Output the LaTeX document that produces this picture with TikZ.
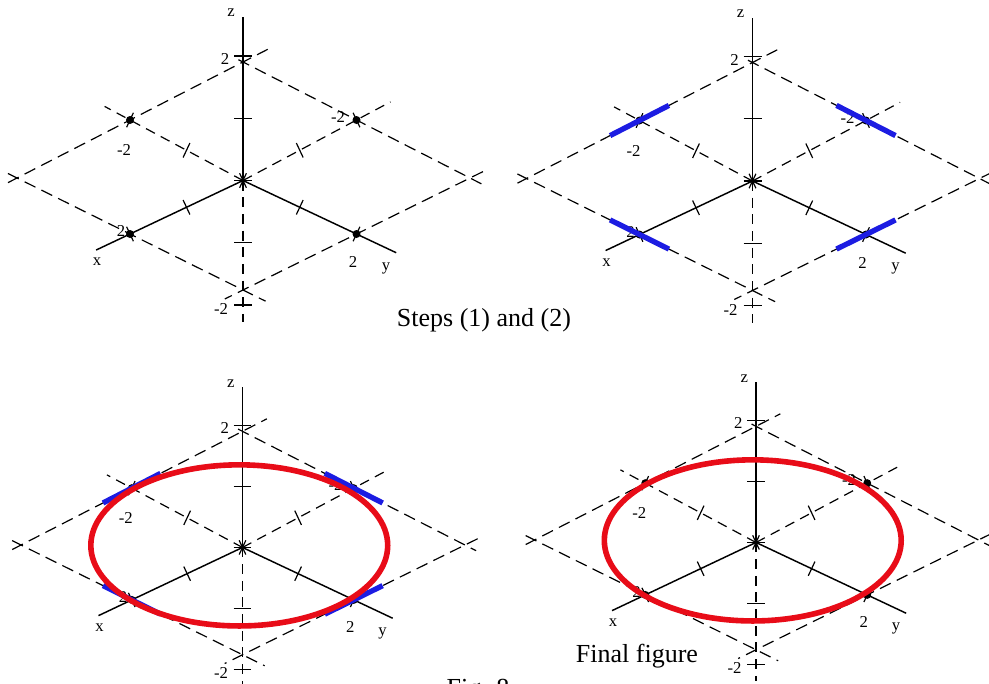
\documentclass[tikz,border=0pt]{standalone}
\usepackage{fontspec}
\setmainfont{Liberation Serif}
\usetikzlibrary{calc}
\definecolor{myred}{RGB}{232,12,24}
\definecolor{myblue}{RGB}{28,28,226}
\tikzset{
  axisline/.style={line width=1.1pt, black},
  negaxis/.style={line width=0.9pt, black, dash pattern=on 7.5pt off 5pt},
  gridline/.style={line width=0.9pt, black, dash pattern=on 9pt off 5pt},
  tickline/.style={line width=0.9pt, black},
  lbl/.style={font=\fontsize{12.5}{14}\selectfont, inner sep=0pt},
  dotnode/.style={circle, fill=black, inner sep=0pt, minimum size=6pt},
  tangent/.style={myblue, line width=4pt},
  curveline/.style={myred, line width=4.2pt},
  caption/.style={font=\fontsize{19.5}{22}\selectfont, inner sep=0pt, anchor=base},
}
\newcommand\mypanel[1]{%
  \coordinate (#1O) at (0,2.5);
  \coordinate (#1T) at (0,-116);
  \coordinate (#1B) at (0,112);
  \coordinate (#1L) at (-226,0);
  \coordinate (#1R) at (227,0);
  \coordinate (#1Px) at ($(#1L)!0.5!(#1B)$);
  \coordinate (#1Py) at ($(#1R)!0.5!(#1B)$);
  \coordinate (#1Nx) at ($(#1T)!0.5!(#1R)$);
  \coordinate (#1Ny) at ($(#1L)!0.5!(#1T)$);
  \coordinate (#1Zt) at (0,-161);
  \coordinate (#1Zb) at (0,144);
  % dashed lines of the plane
  \draw[gridline] ($(#1L)!-0.04!(#1T)$) -- ($(#1L)!1.11!(#1T)$);
  \draw[gridline] ($(#1T)!-0.02!(#1R)$) -- ($(#1T)!1.05!(#1R)$);
  \draw[gridline] ($(#1B)!1.057!(#1R)$) -- ($(#1R)!1.08!(#1B)$);
  \draw[gridline] ($(#1B)!1.04!(#1L)$) -- ($(#1L)!1.1!(#1B)$);
  % axes
  \draw[axisline] (#1O) -- ($(#1O)!1.3!(#1Px)$);
  \draw[negaxis] (#1O) -- ($(#1O)!1.3!(#1Nx)$);
  \draw[axisline] (#1O) -- ($(#1O)!1.35!(#1Py)$);
  \draw[negaxis] (#1O) -- ($(#1O)!1.225!(#1Ny)$);
  \draw[axisline] (#1O) -- (#1Zt);
  \draw[negaxis] (#1O) -- (#1Zb);
  % ticks
  \foreach \f in {0,0.5,1}{
    \draw[tickline] ($(#1O)!\f!(#1Px)+(-3.4,-7.25)$) -- ++(6.8,14.5);
    \draw[tickline] ($(#1O)!\f!(#1Py)+(-3.4,7.25)$) -- ++(6.8,-14.5);
  }
  \foreach \f in {0.5,1}{
    \draw[tickline] ($(#1O)!\f!(#1Nx)+(-3.4,-7.25)$) -- ++(6.8,14.5);
    \draw[tickline] ($(#1O)!\f!(#1Ny)+(-3.4,7.25)$) -- ++(6.8,-14.5);
  }
  \foreach \zz in {-122,-59.75,2.5,64.75,127}{
    \draw[tickline] (-9,\zz) -- (9,\zz);
  }
  % labels
  \node[lbl] (#1lz) at (-12,-165) {z};
  \node[lbl] (#1lztwo) at (-18,-119) {2};
  \node[lbl] (#1lzm) at (-22,131) {-2};
  \node[lbl] (#1lx) at (-146,84) {x};
  \node[lbl] (#1ly) at (143,90) {y};
  \node[lbl] (#1lxtwo) at (-122,53) {2};
  \node[lbl] (#1lym) at (-119,-28) {-2};
  \node[lbl] (#1lxm) at (95,-61) {-2};
  \node[lbl] (#1lytwo) at (110,84) {2};
  % dots
  \node[dotnode] (#1dPx) at (#1Px) {};
  \node[dotnode] (#1dPy) at (#1Py) {};
  \node[dotnode] (#1dNx) at (#1Nx) {};
  \node[dotnode] (#1dNy) at (#1Ny) {};
}
\newcommand\mytangents[1]{%
  \draw[tangent] ($(#1L)!0.37!(#1T)$) -- ($(#1L)!0.63!(#1T)$);
  \draw[tangent] ($(#1T)!0.37!(#1R)$) -- ($(#1T)!0.63!(#1R)$);
  \draw[tangent] ($(#1L)!0.37!(#1B)$) -- ($(#1L)!0.63!(#1B)$);
  \draw[tangent] ($(#1R)!0.37!(#1B)$) -- ($(#1R)!0.63!(#1B)$);
}
\newcommand\mycurve[1]{%
  \coordinate (#1E) at (-3.3,0.4);
  \draw[curveline] (#1E) ellipse [x radius=113.6pt, y radius=61.65pt];
}
\begin{document}
\begin{tikzpicture}[x=0.75pt,y=-0.75pt]
\useasboundingbox (0,0) rectangle (989,683);
\fill[white] (0,0) rectangle (989,683);
\begin{scope}[shift={(243,178)}]
  \mypanel{a}
\end{scope}
\begin{scope}[shift={(752.5,178.5)}]
  \mypanel{b}
  \mytangents{b}
\end{scope}
\begin{scope}[shift={(242.5,545)}, scale=0.98]
  \mypanel{c}
  \mytangents{c}
  \mycurve{c}
\end{scope}
\begin{scope}[shift={(756,540)}, scale=0.98]
  \mypanel{d}
  \mycurve{d}
\end{scope}
\node[caption] (capA) at (484,326) {Steps (1) and (2)};
\node[caption] (capB) at (637,662) {Final figure};
\node[caption] (capC) at (478,696) {Fig. 8};
\end{tikzpicture}
\end{document}
